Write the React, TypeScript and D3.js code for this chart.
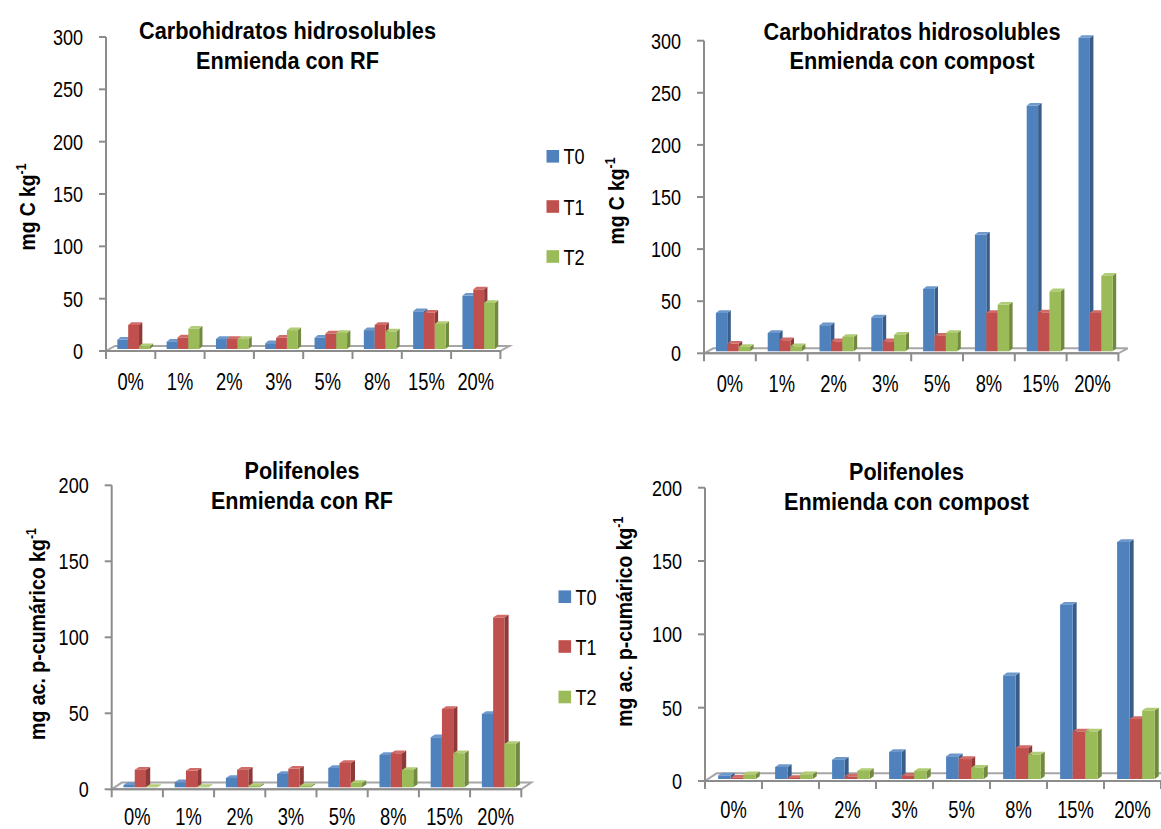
import React from "react";
import * as d3 from "d3";

// Dose categories and treatment series
const categories = ["0%", "1%", "2%", "3%", "5%", "8%", "15%", "20%"];
const seriesNames = ["T0", "T1", "T2"];

// Carbohidratos hidrosolubles, enmienda con RF (mg C kg-1)
const carbRF_T0 = [9, 7, 9.5, 5.5, 10.7, 18, 36, 51];
const carbRF_T1 = [23, 11, 9.5, 10.7, 14.8, 23, 34.6, 57];
const carbRF_T2 = [2.6, 19.5, 9.5, 18, 15.4, 16.7, 24, 44];

// Carbohidratos hidrosolubles, enmienda con compost (mg C kg-1)
const carbComp_T0 = [36.8, 17.6, 25, 32.6, 59.8, 112, 235.8, 300.8];
const carbComp_T1 = [7.4, 10.6, 9.6, 9.6, 15, 36.8, 37.4, 36.8];
const carbComp_T2 = [4.2, 4.8, 13.8, 16, 17.6, 44.8, 57.6, 72.6];

// Polifenoles, enmienda con RF (mg ac. p-cumárico kg-1)
const polRF_T0 = [1.5, 3.3, 6.1, 8.8, 12.7, 21.3, 32.9, 48.2];
const polRF_T1 = [11.6, 11, 11.6, 12.3, 16, 22.4, 51.5, 111.8];
const polRF_T2 = [0.3, 0.3, 0.9, 0.9, 2.9, 11.4, 22.4, 28.5];

// Polifenoles, enmienda con compost (mg ac. p-cumárico kg-1)
const polComp_T0 = [2.5, 8.2, 13.2, 18.4, 15.5, 70.7, 118.9, 161.6];
const polComp_T1 = [0.9, 0.7, 1.8, 2.3, 13.6, 21.1, 32.5, 40.9];
const polComp_T2 = [3.2, 3.2, 5.5, 5.5, 7.7, 16.8, 32.5, 46.8];

const carbTicks = [0, 50, 100, 150, 200, 250, 300];
const polTicks = [0, 50, 100, 150, 200];

const FONT = "'Liberation Sans Narrow','Arial Narrow','Liberation Sans',Arial,sans-serif";

const palette = [
  { front: "#4f81bd", side: "#385d8a", top: "#6d98cc" },
  { front: "#c0504d", side: "#8e3a38", top: "#d16b68" },
  { front: "#9bbb59", side: "#718a3f", top: "#b0cc74" },
];
const AXIS = "#8c8c8c";

// Condensed text: regular sans squeezed horizontally
function NText(props: {
  x: number;
  y: number;
  size: number;
  squeeze?: number;
  anchor?: "start" | "middle" | "end";
  children: React.ReactNode;
}) {
  return (
    <text
      transform={`translate(${props.x},${props.y}) scale(${props.squeeze ?? 0.82},1)`}
      textAnchor={props.anchor ?? "start"}
      fontFamily={FONT}
      fontSize={props.size}
      fill="#000"
    >
      {props.children}
    </text>
  );
}

type PanelProps = {
  values: number[][];
  ticks: number[];
  axisX: number;
  y0: number;
  yTop: number;
  catW: number;
  floorD: [number, number];
  barD: [number, number];
  labelDy: number;
  title: [string, string];
  titleX: number;
  titleY: [number, number];
  titleW: [number, number];
  yLabel: string;
  yLabelPos: [number, number];
  yLabelW: number;
  legend?: { x: number; y: number[] };
};

function Panel(p: PanelProps) {
  const max = p.ticks[p.ticks.length - 1];
  const y = d3.scaleLinear().domain([0, max]).range([p.y0, p.yTop]);
  const x = d3
    .scaleBand<string>()
    .domain(categories)
    .range([p.axisX, p.axisX + p.catW * categories.length])
    .padding(0);
  const w = x.bandwidth();
  const barW = w * 0.22;
  const barOff = w * 0.23;
  const lift = 2; // bars stand slightly behind the front edge of the floor
  const [fdx, fdy] = p.floorD;
  const [bdx, bdy] = p.barD;
  const xEnd = p.axisX + p.catW * categories.length;

  const bars: React.ReactElement[] = [];
  categories.forEach((c, ci) => {
    seriesNames.forEach((_, si) => {
      const v = p.values[si][ci];
      const bx = (x(c) as number) + barOff + si * barW;
      const base = y(0) - lift;
      const top = y(v) - lift;
      const col = palette[si];
      bars.push(
        <g key={`${ci}-${si}`}>
          <polygon
            points={`${bx + barW},${top} ${bx + barW + bdx},${top - bdy} ${bx + barW + bdx},${base - bdy} ${bx + barW},${base}`}
            fill={col.side}
          />
          <polygon
            points={`${bx},${top} ${bx + bdx},${top - bdy} ${bx + barW + bdx},${top - bdy} ${bx + barW},${top}`}
            fill={col.top}
          />
          <rect x={bx} y={top} width={barW} height={Math.max(0, base - top)} fill={col.front} />
        </g>
      );
    });
  });

  const tx = p.yLabelPos[0] + 7;
  return (
    <g>
      {/* floor */}
      <polygon
        points={`${p.axisX},${p.y0} ${xEnd},${p.y0} ${xEnd + fdx},${p.y0 - fdy} ${p.axisX + fdx},${p.y0 - fdy}`}
        fill="#ffffff"
        stroke="#a6a6a6"
        strokeWidth={2}
      />
      {/* value axis */}
      <line x1={p.axisX} x2={p.axisX} y1={y(max)} y2={p.y0} stroke={AXIS} strokeWidth={2} />
      {p.ticks.map((t) => (
        <g key={t}>
          <line x1={p.axisX - 7} x2={p.axisX} y1={y(t)} y2={y(t)} stroke={AXIS} strokeWidth={2} />
          <NText x={p.axisX - 23} y={y(t) + 8} size={22} anchor="end">
            {t}
          </NText>
        </g>
      ))}
      {/* category axis */}
      <line x1={p.axisX} x2={xEnd} y1={p.y0} y2={p.y0} stroke={AXIS} strokeWidth={2} />
      {d3.range(categories.length + 1).map((i) => (
        <line
          key={i}
          x1={p.axisX + i * w}
          x2={p.axisX + i * w}
          y1={p.y0}
          y2={p.y0 + 8}
          stroke={AXIS}
          strokeWidth={2}
        />
      ))}
      {categories.map((c) => (
        <NText
          key={c}
          x={(x(c) as number) + w / 2}
          y={p.y0 + p.labelDy}
          size={23.5}
          squeeze={0.78}
          anchor="middle"
        >
          {c}
        </NText>
      ))}
      {bars}
      {/* title */}
      {p.title.map((t, i) => (
        <text
          key={i}
          x={p.titleX}
          y={p.titleY[i] + 7}
          textAnchor="middle"
          fontFamily={FONT}
          fontWeight="bold"
          fontSize={23}
          textLength={p.titleW[i]}
          lengthAdjust="spacingAndGlyphs"
          fill="#000"
        >
          {t}
        </text>
      ))}
      {/* value axis title */}
      <text
        transform={`translate(${tx},${p.yLabelPos[1]}) rotate(-90)`}
        textAnchor="middle"
        fontFamily={FONT}
        fontWeight="bold"
        fontSize={22}
        textLength={p.yLabelW}
        lengthAdjust="spacingAndGlyphs"
        fill="#000"
      >
        {p.yLabel}
        <tspan fontSize={14} dy={-9}>
          -1
        </tspan>
      </text>
      {/* legend */}
      {p.legend &&
        seriesNames.map((s, i) => (
          <g key={s}>
            <rect
              x={p.legend!.x}
              y={p.legend!.y[i] - 6.3}
              width={12.6}
              height={12.6}
              fill={palette[i].front}
            />
            <NText x={p.legend!.x + 17} y={p.legend!.y[i] + 8} size={22}>
              {s}
            </NText>
          </g>
        ))}
    </g>
  );
}

export default function App() {
  return (
    <svg
      width={1161}
      height={829}
      style={{ position: "absolute", left: 0, top: 0, background: "#fff" }}
    >
      <rect x={0} y={0} width={1161} height={829} fill="#fff" />
      <Panel
        values={[carbRF_T0, carbRF_T1, carbRF_T2]}
        ticks={carbTicks}
        axisX={106}
        y0={351}
        yTop={37}
        catW={49.3}
        floorD={[9, 5]}
        barD={[3.3, 2.7]}
        labelDy={38.5}
        title={["Carbohidratos hidrosolubles", "Enmienda con RF"]}
        titleX={287.5}
        titleY={[31.7, 61.7]}
        titleW={[297, 183]}
        yLabel="mg C kg"
        yLabelPos={[28, 207]}
        yLabelW={87}
        legend={{ x: 546.5, y: [156.3, 206.5, 256.5] }}
      />
      <Panel
        values={[carbComp_T0, carbComp_T1, carbComp_T2]}
        ticks={carbTicks}
        axisX={704}
        y0={353.3}
        yTop={40.7}
        catW={51.8}
        floorD={[9.3, 5]}
        barD={[3.5, 2.7]}
        labelDy={38.5}
        title={["Carbohidratos hidrosolubles", "Enmienda con compost"]}
        titleX={912}
        titleY={[32.7, 62]}
        titleW={[297, 245]}
        yLabel="mg C kg"
        yLabelPos={[617, 201]}
        yLabelW={87}
      />
      <Panel
        values={[polRF_T0, polRF_T1, polRF_T2]}
        ticks={polTicks}
        axisX={111.7}
        y0={789.3}
        yTop={485.3}
        catW={51.2}
        floorD={[10, 6.7]}
        barD={[4.2, 2.7]}
        labelDy={36}
        title={["Polifenoles", "Enmienda con RF"]}
        titleX={302}
        titleY={[471.7, 501.7]}
        titleW={[115, 182]}
        yLabel="mg ac. p-cumárico kg"
        yLabelPos={[38, 634]}
        yLabelW={212}
        legend={{ x: 558.5, y: [596.7, 646.5, 697] }}
      />
      <Panel
        values={[polComp_T0, polComp_T1, polComp_T2]}
        ticks={polTicks}
        axisX={705}
        y0={781}
        yTop={487.7}
        catW={57}
        floorD={[11.7, 7.7]}
        barD={[4, 2.7]}
        labelDy={37}
        title={["Polifenoles", "Enmienda con compost"]}
        titleX={906.5}
        titleY={[473.3, 503.3]}
        titleW={[115, 245]}
        yLabel="mg ac. p-cumárico kg"
        yLabelPos={[624.5, 621.7]}
        yLabelW={210}
      />
    </svg>
  );
}
